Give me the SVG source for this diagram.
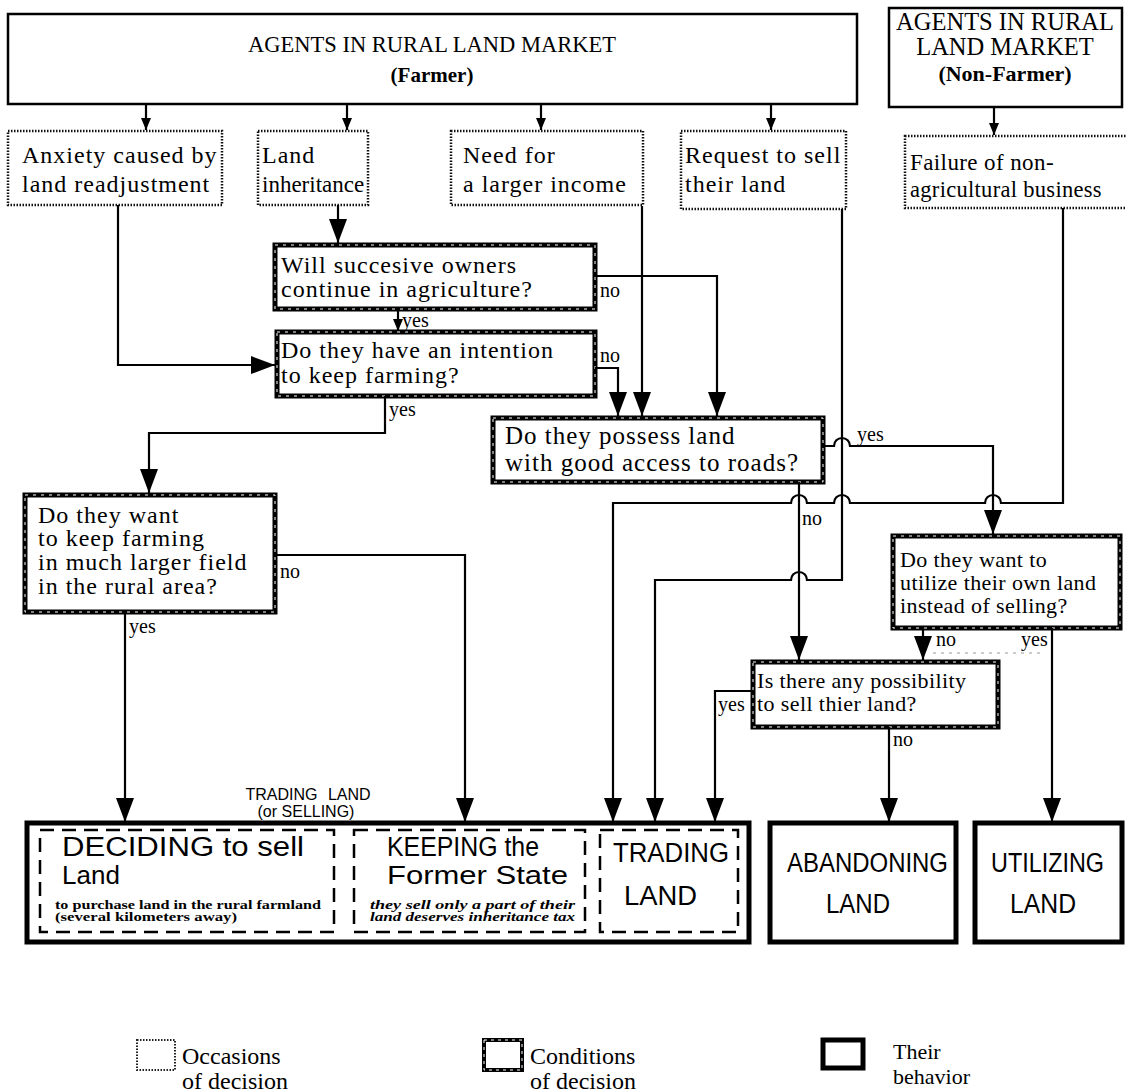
<svg xmlns="http://www.w3.org/2000/svg" width="1126" height="1092" viewBox="0 0 1126 1092">
<defs>
<style>
.t{font-family:"Liberation Serif","Times New Roman",serif;font-size:24px;letter-spacing:1px;fill:#000}
.t2{font-family:"Liberation Serif","Times New Roman",serif;font-size:22px;letter-spacing:0.4px;fill:#000}
.h{font-family:"Liberation Serif","Times New Roman",serif;fill:#000}
.lab{font-family:"Liberation Serif","Times New Roman",serif;font-size:20px;fill:#000}
.s{font-family:"Liberation Sans",Arial,sans-serif;fill:#000}
.agent{fill:#fff;stroke:#000;stroke-width:2.5}
.occ{fill:#fff;stroke:#111;stroke-width:2.5;stroke-dasharray:1.5 1.5}
.cond{fill:#fff;stroke:#000;stroke-width:5}
.tex{fill:none;stroke:#fff;stroke-width:1;stroke-dasharray:3 5}
.beh{fill:#fff;stroke:#000;stroke-width:5}
.inner{fill:none;stroke:#000;stroke-width:2.5;stroke-dasharray:14 8}
.c{fill:none;stroke:#000;stroke-width:2.2}
.big{marker-end:url(#ab)}
.sm{marker-end:url(#as)}
</style>
<marker id="ab" viewBox="0 0 24 18" refX="24" refY="9" markerWidth="24" markerHeight="18" markerUnits="userSpaceOnUse" orient="auto"><path d="M0,0 L24,9 L0,18 z" fill="#000"/></marker>
<marker id="as" viewBox="0 0 12 10" refX="12" refY="5" markerWidth="12" markerHeight="10" markerUnits="userSpaceOnUse" orient="auto"><path d="M0,0 L12,5 L0,10 z" fill="#000"/></marker>
</defs>
<rect width="1126" height="1092" fill="#fff"/>

<g id="agent-farmer">
<rect class="agent" x="8" y="14" width="849" height="90"/>
<text class="h" x="432" y="52" text-anchor="middle" font-size="22.5">AGENTS IN RURAL LAND MARKET</text>
<text class="h" x="432" y="82" text-anchor="middle" font-size="21" font-weight="bold">(Farmer)</text>
</g>
<g id="agent-nonfarmer">
<rect class="agent" x="889" y="8" width="233" height="99"/>
<text class="h" x="1005" y="30" text-anchor="middle" font-size="24.5">AGENTS IN RURAL</text>
<text class="h" x="1005" y="55" text-anchor="middle" font-size="24.5">LAND MARKET</text>
<text class="h" x="1005" y="81" text-anchor="middle" font-size="22" font-weight="bold">(Non-Farmer)</text>
</g>

<g id="occ-anxiety"><rect class="occ" x="8" y="131" width="214" height="74"/>
<text class="t" x="22" y="163">Anxiety caused by</text><text class="t" x="22" y="192">land readjustment</text></g>
<g id="occ-inheritance"><rect class="occ" x="258" y="131" width="110" height="74"/>
<text class="t" x="262" y="163">Land</text><text class="t" x="262" y="192" style="font-size:23px;letter-spacing:0">inheritance</text></g>
<g id="occ-income"><rect class="occ" x="451" y="131" width="192" height="74"/>
<text class="t" x="463" y="163">Need for</text><text class="t" x="463" y="192">a larger income</text></g>
<g id="occ-request"><rect class="occ" x="681" y="131" width="165" height="78"/>
<text class="t" x="685" y="163">Request to sell</text><text class="t" x="685" y="192">their land</text></g>
<g id="occ-failure"><rect class="occ" x="905" y="136" width="224" height="72"/>
<text class="t" x="910" y="170" style="font-size:23px;letter-spacing:0.4px">Failure of non-</text><text class="t" x="910" y="197" style="font-size:22.5px;letter-spacing:0.3px">agricultural business</text></g>

<g id="cond-successive"><rect class="cond" x="275" y="245" width="320" height="64"/><rect class="tex" x="275" y="245" width="320" height="64"/>
<text class="t" x="281" y="273">Will succesive owners</text><text class="t" x="281" y="297">continue in agriculture?</text></g>
<g id="cond-intention"><rect class="cond" x="277" y="332" width="318" height="64"/><rect class="tex" x="277" y="332" width="318" height="64"/>
<text class="t" x="281" y="358">Do they have an intention</text><text class="t" x="281" y="383">to keep farming?</text></g>
<g id="cond-access"><rect class="cond" x="493" y="418" width="330" height="64"/><rect class="tex" x="493" y="418" width="330" height="64"/>
<text class="t" x="505" y="444" style="font-size:25px">Do they possess land</text><text class="t" x="505" y="471" style="font-size:25px">with good access to roads?</text></g>
<g id="cond-larger"><rect class="cond" x="25" y="495" width="250" height="117"/><rect class="tex" x="25" y="495" width="250" height="117"/>
<text class="t" x="38" y="523">Do they want</text><text class="t" x="38" y="546">to keep farming</text><text class="t" x="38" y="570">in much larger field</text><text class="t" x="38" y="594">in the rural area?</text></g>
<g id="cond-utilize"><rect class="cond" x="893" y="536" width="227" height="92"/><rect class="tex" x="893" y="536" width="227" height="92"/>
<text class="t2" x="900" y="567">Do they want to</text><text class="t2" x="900" y="590">utilize their own land</text><text class="t2" x="900" y="613">instead of selling?</text></g>
<g id="cond-possibility"><rect class="cond" x="753" y="662" width="245" height="65"/><rect class="tex" x="753" y="662" width="245" height="65"/>
<text class="t2" x="757" y="688">Is there any possibility</text><text class="t2" x="757" y="711">to sell thier land?</text></g>

<g id="trading-label">
<text class="s" x="308" y="800" text-anchor="middle" font-size="16" word-spacing="6">TRADING LAND</text>
<text class="s" x="306" y="817" text-anchor="middle" font-size="16">(or SELLING)</text>
</g>
<g id="beh-trading">
<rect class="beh" x="27" y="823" width="722" height="119"/>
<rect class="inner" x="40" y="830" width="294" height="102"/>
<rect class="inner" x="354" y="830" width="231" height="102"/>
<rect class="inner" x="600" y="830" width="138" height="102"/>
<text class="s" x="62" y="856" font-size="27" textLength="242" lengthAdjust="spacingAndGlyphs">DECIDING to sell</text>
<text class="s" x="62" y="884" font-size="26">Land</text>
<text class="h" x="55" y="909" font-size="13" font-weight="bold" textLength="266" lengthAdjust="spacingAndGlyphs">to purchase land in the rural farmland</text>
<text class="h" x="55" y="921" font-size="13" font-weight="bold" textLength="182" lengthAdjust="spacingAndGlyphs">(several kilometers away)</text>
<text class="s" x="387" y="856" font-size="27" textLength="152" lengthAdjust="spacingAndGlyphs">KEEPING the</text>
<text class="s" x="387" y="884" font-size="26" textLength="181" lengthAdjust="spacingAndGlyphs">Former State</text>
<text class="h" x="370" y="909" font-size="13" font-weight="bold" font-style="italic" textLength="205" lengthAdjust="spacingAndGlyphs">they sell only a part of their</text>
<text class="h" x="370" y="921" font-size="13" font-weight="bold" font-style="italic" textLength="205" lengthAdjust="spacingAndGlyphs">land deserves inheritance tax</text>
<text class="s" x="613" y="862" font-size="27" textLength="116" lengthAdjust="spacingAndGlyphs">TRADING</text>
<text class="s" x="624" y="905" font-size="27" textLength="73" lengthAdjust="spacingAndGlyphs">LAND</text>
</g>
<g id="beh-abandoning">
<rect class="beh" x="770" y="823" width="186" height="119"/>
<text class="s" x="787" y="872" font-size="27" textLength="161" lengthAdjust="spacingAndGlyphs">ABANDONING</text>
<text class="s" x="826" y="913" font-size="27" textLength="64" lengthAdjust="spacingAndGlyphs">LAND</text>
</g>
<g id="beh-utilizing">
<rect class="beh" x="975" y="823" width="147" height="119"/>
<text class="s" x="991" y="872" font-size="27" textLength="113" lengthAdjust="spacingAndGlyphs">UTILIZING</text>
<text class="s" x="1010" y="913" font-size="27" textLength="66" lengthAdjust="spacingAndGlyphs">LAND</text>
</g>

<g id="connectors">
<path class="c sm" d="M146,104 V130"/>
<path class="c sm" d="M347,104 V130"/>
<path class="c sm" d="M541,104 V130"/>
<path class="c sm" d="M771,104 V130"/>
<path class="c sm" d="M994,107 V135"/>
<path class="c big" d="M118,205 V365 H275"/>
<path class="c big" d="M338,205 V243"/>
<path class="c sm" d="M398,309 V331"/>
<path class="c big" d="M595,276 H717 V416"/>
<path class="c big" d="M595,368 H618 V416"/>
<path class="c big" d="M642,206 V416"/>
<path class="c big" d="M385,396 V433 H149 V493"/>
<path class="c big" d="M125,612 V822"/>
<path class="c big" d="M275,555 H465 V822"/>
<path class="c big" d="M823,446 H834 A8,8 0 0 1 850,446 H993 V534"/>
<path class="c big" d="M799,482 V660"/>
<path class="c big" d="M842,209 V580 H807 A8,8 0 0 0 791,580 H655 V822"/>
<path class="c big" d="M1063,208 V503 H1001 A8,8 0 0 0 985,503 H850 A8,8 0 0 0 834,503 H807 A8,8 0 0 0 791,503 H613 V822"/>
<path class="c big" d="M923,628 V660"/>
<path class="c big" d="M1052,628 V822"/>
<path class="c big" d="M753,691 H715 V822"/>
<path class="c big" d="M889,727 V822"/>
<path d="M933,653 H1043" fill="none" stroke="#bbb" stroke-width="1.5" stroke-dasharray="3 5"/>
<text class="lab" x="402" y="327">yes</text>
<text class="lab" x="600" y="297">no</text>
<text class="lab" x="600" y="362">no</text>
<text class="lab" x="389" y="416">yes</text>
<text class="lab" x="857" y="441">yes</text>
<text class="lab" x="280" y="578">no</text>
<text class="lab" x="129" y="633">yes</text>
<text class="lab" x="802" y="525">no</text>
<text class="lab" x="936" y="646">no</text>
<text class="lab" x="1021" y="646">yes</text>
<text class="lab" x="718" y="711">yes</text>
<text class="lab" x="893" y="746">no</text>
</g>

<g id="legend">
<rect x="137" y="1040" width="38" height="30" fill="#fff" stroke="#222" stroke-width="2" stroke-dasharray="1.5 1.5"/>
<text class="h" x="182" y="1064" font-size="24">Occasions</text>
<text class="h" x="182" y="1089" font-size="24">of decision</text>
<rect x="484" y="1040" width="38" height="30" fill="#fff" stroke="#000" stroke-width="4"/>
<rect x="484" y="1040" width="38" height="30" fill="none" stroke="#fff" stroke-width="1" stroke-dasharray="3 4"/>
<text class="h" x="530" y="1064" font-size="24">Conditions</text>
<text class="h" x="530" y="1089" font-size="24">of decision</text>
<rect x="823" y="1040" width="40" height="28" fill="#fff" stroke="#000" stroke-width="5"/>
<text class="h" x="893" y="1059" font-size="22">Their</text>
<text class="h" x="893" y="1084" font-size="22">behavior</text>
</g>
</svg>
